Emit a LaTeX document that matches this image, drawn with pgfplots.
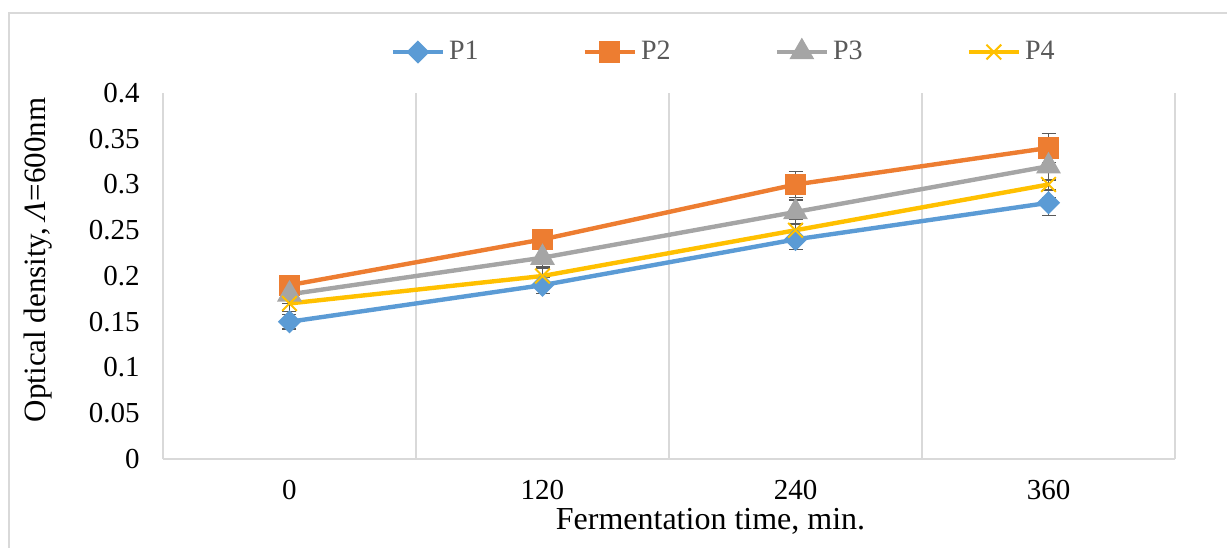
\documentclass[border=0pt]{standalone}
\usepackage{fontspec}
\setmainfont{Liberation Serif}
\usepackage{pgfplots}
\pgfplotsset{compat=1.18}
\definecolor{cPone}{HTML}{5B9BD5}
\definecolor{cPtwo}{HTML}{ED7D31}
\definecolor{cPthree}{HTML}{A5A5A5}
\definecolor{cPfour}{HTML}{FFC000}
\definecolor{gridgray}{HTML}{D9D9D9}
\definecolor{errgray}{HTML}{595959}
\definecolor{txtgray}{HTML}{595959}
\pgfplotsset{
  series/.style={line width=2.2pt, mark options={solid}},
  ebars/.style={error bars/.cd, y dir=both, y explicit,
    error bar style={line width=0.75pt, color=errgray},
    error mark options={rotate=90, mark size=3.5pt, line width=0.75pt, color=errgray}},
}
\begin{document}
\begin{tikzpicture}
\useasboundingbox (-81.5pt,-44pt) rectangle (532pt,229.5pt);
\draw[color=gridgray, line width=0.8pt] (-77pt,-50pt) -- (-77pt,223pt) -- (540pt,223pt);
\begin{axis}[
  at={(0,0)}, anchor=south west,
  scale only axis, width=506pt, height=183pt,
  xmin=-0.5, xmax=3.5, ymin=0, ymax=0.4,
  axis x line*=bottom, axis y line*=left,
  axis line style={draw=gridgray, line width=0.75pt},
  xtick={0,1,2,3}, xticklabels={0,120,240,360},
  ytick={0,0.05,...,0.4},
  scaled y ticks=false,
  major tick length=0pt,
  extra x ticks={0.5,1.5,2.5,3.5}, extra x tick labels={},
  extra x tick style={grid=major, major grid style={draw=gridgray, line width=0.75pt}},
  ticklabel style={font=\fontsize{14.5}{16}\selectfont, /pgf/number format/assume math mode=true},
  yticklabel style={/pgf/number format/fixed, /pgf/number format/precision=2, inner sep=0pt, xshift=-11.5pt},
  xticklabel style={inner sep=0pt, yshift=-10.5pt},
  xlabel={Fermentation time, min.},
  xlabel style={font=\fontsize{16}{18}\selectfont, at={(axis description cs:0.541,0)}, anchor=center, yshift=-31pt},
  ylabel={Optical density, \textit{Λ}=600nm},
  ylabel style={font=\fontsize{15.5}{18}\selectfont, at={(axis description cs:0,0.544)}, anchor=center, yshift=62.5pt},
  legend columns=4,
  legend style={draw=none, fill=none, at={(axis description cs:0.555,1.112)}, anchor=center,
    font=\fontsize{14}{16}\selectfont, text=txtgray,
    /tikz/every even column/.append style={column sep=50pt},
    /tikz/every odd column/.append style={column sep=0pt}},
  legend image code/.code={\draw[mark repeat=2, mark phase=2, line width=2.2pt, #1] plot coordinates {(0pt,0pt) (12.5pt,0pt) (25pt,0pt)};},
  clip=false,
]
\addplot[series, cPone, mark=square*, mark size=3pt, mark options={rotate=45, fill=cPone}, ebars]
  coordinates {(0,0.15) +- (0,0.008) (1,0.19) +- (0,0.009) (2,0.24) +- (0,0.011) (3,0.28) +- (0,0.014)};
\addplot[series, cPtwo, mark=square*, mark size=4.2pt, mark options={fill=cPtwo}, ebars]
  coordinates {(0,0.19) +- (0,0.010) (1,0.24) +- (0,0.011) (2,0.30) +- (0,0.014) (3,0.34) +- (0,0.016)};
\addplot[series, cPthree, mark=triangle*, mark size=5pt, mark options={fill=cPthree}, ebars]
  coordinates {(0,0.18) +- (0,0.010) (1,0.22) +- (0,0.011) (2,0.27) +- (0,0.013) (3,0.32) +- (0,0.015)};
\addplot[series, cPfour, mark=x, mark size=5.2pt, mark options={line width=1pt}, ebars]
  coordinates {(0,0.17) +- (0,0.009) (1,0.20) +- (0,0.010) (2,0.25) +- (0,0.012) (3,0.30) +- (0,0.014)};
\legend{P1,P2,P3,P4}
\end{axis}
\end{tikzpicture}
\end{document}
